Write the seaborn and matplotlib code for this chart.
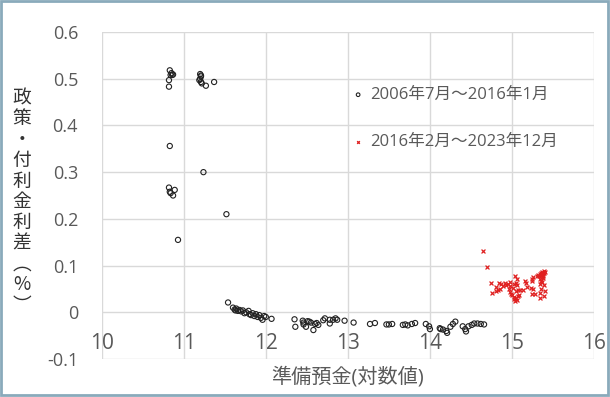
import matplotlib
matplotlib.use("Agg")
import matplotlib.pyplot as plt
import seaborn as sns
import pandas as pd
from matplotlib.patches import Rectangle

# ---- data ----
x_before = [10.83, 10.84, 10.86, 10.87, 10.82, 10.82, 10.85,
            11.20, 11.21, 11.20, 11.19, 11.21, 11.22, 11.27, 11.37, 11.21,
            10.83, 11.24,
            10.82, 10.83, 10.84, 10.87, 10.89, 11.52, 10.93,
            11.54, 11.60, 11.62, 11.63, 11.64, 11.66, 11.68, 11.70, 11.72, 11.74, 11.76, 11.79,
            11.80, 11.82, 11.84, 11.86, 11.88, 11.90, 11.92, 11.94, 11.96, 11.98, 12.00, 12.07,
            12.35, 12.36, 12.45, 12.46, 12.46, 12.49, 12.51, 12.53, 12.55, 12.58, 12.60,
            12.62, 12.64, 12.70, 12.72, 12.78, 12.78, 12.82, 12.85, 12.87, 12.96, 13.07,
            13.27, 13.33, 13.47, 13.50, 13.54, 13.67, 13.70, 13.73, 13.78, 13.82,
            13.95, 13.99, 14.00, 14.12, 14.13, 14.16, 14.20, 14.21, 14.25, 14.28, 14.31,
            14.40, 14.43, 14.44, 14.47, 14.51, 14.54, 14.58, 14.62, 14.66]
y_before = [0.518, 0.508, 0.508, 0.509, 0.497, 0.483, 0.512,
            0.510, 0.505, 0.500, 0.497, 0.493, 0.490, 0.485, 0.493, 0.507,
            0.356, 0.300,
            0.267, 0.258, 0.255, 0.250, 0.262, 0.210, 0.155,
            0.021, 0.010, 0.006, 0.004, 0.008, 0.003, 0.005, 0.002, 0.004, -0.002, 0.000, 0.003,
            -0.004, -0.006, -0.002, -0.008, -0.004, -0.010, -0.006, -0.012, -0.016, -0.008, -0.010, -0.014,
            -0.015, -0.031, -0.018, -0.022, -0.026, -0.031, -0.019, -0.020, -0.022, -0.038, -0.025,
            -0.023, -0.027, -0.017, -0.013, -0.016, -0.024, -0.016, -0.013, -0.016, -0.018, -0.022,
            -0.025, -0.023, -0.026, -0.026, -0.025, -0.027, -0.026, -0.028, -0.025, -0.023,
            -0.025, -0.030, -0.036, -0.034, -0.036, -0.037, -0.040, -0.044, -0.031, -0.025, -0.020,
            -0.030, -0.036, -0.041, -0.030, -0.027, -0.024, -0.024, -0.025, -0.026]

x_after = [14.65, 14.70, 14.74, 14.76,
           14.81, 14.84, 14.87, 14.89, 14.91, 14.93, 14.95, 14.97,
           14.81, 14.83, 14.86,
           14.96, 14.97, 14.99, 15.00, 15.02, 15.03, 15.04, 15.05, 15.06, 15.07, 15.05, 15.07,
           15.08, 15.10, 15.13, 14.98, 15.01, 15.03,
           15.04, 15.06, 15.05, 15.06,
           15.16, 15.17, 15.18,
           15.24, 15.26, 15.25, 15.23, 15.26, 15.24, 15.28,
           15.31, 15.32, 15.34, 15.35, 15.36, 15.35, 15.37, 15.38, 15.39, 15.33, 15.36,
           15.34, 15.35, 15.34, 15.35, 15.34, 15.34, 15.37, 15.38, 15.39, 15.40, 15.38,
           15.39, 15.40, 15.39]
y_after = [0.132, 0.096, 0.062, 0.042,
           0.055, 0.062, 0.060, 0.057, 0.063, 0.058, 0.061, 0.065,
           0.045, 0.048, 0.050,
           0.050, 0.043, 0.040, 0.036, 0.032, 0.028, 0.025, 0.030, 0.026, 0.034, 0.045, 0.048,
           0.038, 0.047, 0.047, 0.056, 0.052, 0.060,
           0.078, 0.072, 0.062, 0.058,
           0.068, 0.062, 0.055,
           0.072, 0.076, 0.066, 0.052, 0.050, 0.040, 0.040,
           0.078, 0.080, 0.082, 0.084, 0.086, 0.080, 0.082, 0.085, 0.088, 0.078, 0.076,
           0.072, 0.066, 0.060, 0.050, 0.042, 0.030, 0.064, 0.078, 0.084, 0.086, 0.074,
           0.058, 0.045, 0.035]

label_before = "2006年7月～2016年1月"
label_after = "2016年2月～2023年12月"
x_ticks = [10, 11, 12, 13, 14, 15, 16]
y_ticks = [-0.1, 0, 0.1, 0.2, 0.3, 0.4, 0.5, 0.6]
y_tick_labels = ["-0.1", "0", "0.1", "0.2", "0.3", "0.4", "0.5", "0.6"]
x_label = "準備預金(対数値)"
y_label = "政\n策\n・\n付\n利\n金\n利\n差\n︵\n%\n︶"

# ---- style ----
sns.set_theme(style="white")
plt.rcParams["font.family"] = ["Open Sans", "Noto Sans CJK JP", "DejaVu Sans"]
text_color = "#595959"
grid_color = "#d9d9d9"

fig = plt.figure(figsize=(6.10, 3.97), dpi=100)
ax = fig.add_axes([0.1667, 0.0957, 0.8071, 0.8237])

df_b = pd.DataFrame({"x": x_before, "y": y_before})
df_a = pd.DataFrame({"x": x_after, "y": y_after})

sns.scatterplot(data=df_b, x="x", y="y", ax=ax, marker="o", s=14,
                facecolors="none", edgecolor="#222222", linewidth=0.8,
                label=label_before, zorder=3)
sns.scatterplot(data=df_a, x="x", y="y", ax=ax, marker="x", s=8,
                color="#e02020", linewidth=0.9, label=label_after, zorder=3)

ax.set_xlim(10, 16)
ax.set_ylim(-0.1, 0.6)
ax.set_xticks(x_ticks)
ax.set_yticks(y_ticks)
ax.set_yticklabels(y_tick_labels)
ax.grid(True, color=grid_color, linewidth=1.0, zorder=0)
ax.set_axisbelow(True)
for s in ax.spines.values():
    s.set_visible(False)
ax.spines["bottom"].set_position(("data", 0))

ax.tick_params(axis="x", length=0, pad=15, labelsize=15, labelcolor=text_color)
ax.tick_params(axis="y", length=0, pad=17, labelsize=13, labelcolor=text_color)

ax.set_xlabel(x_label, fontsize=14.5, color=text_color)
ax.set_ylabel("")
ax.xaxis.set_label_coords(0.5, -0.025)
fig.text(0.036, 0.492, y_label, fontsize=13.5, color="#333333", ha="center",
         va="center", linespacing=0.98, family=["Noto Sans CJK JP", "DejaVu Sans"])

leg = ax.legend(loc="upper left", bbox_to_anchor=(0.487, 0.857), frameon=False,
                fontsize=12, labelspacing=1.85, handletextpad=0.25,
                handlelength=1.0, borderpad=0, markerscale=0.7)
for t in leg.get_texts():
    t.set_color(text_color)

fig.patches.append(Rectangle((0.002, 0.004), 0.994, 0.994, transform=fig.transFigure,
                             fill=False, edgecolor="#8aaabb", linewidth=2))

fig.savefig("out.png", dpi=100)
